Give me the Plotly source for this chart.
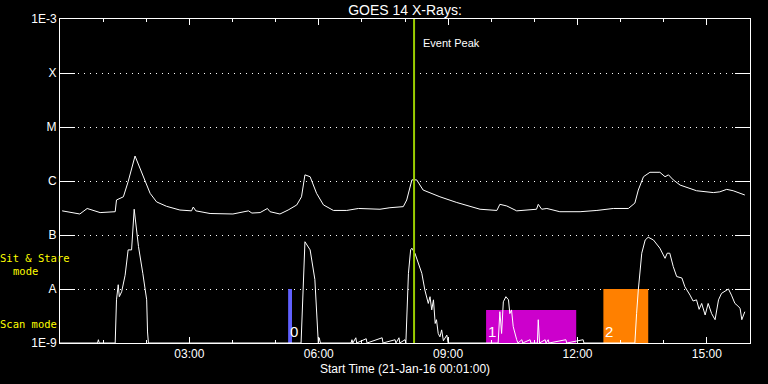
import plotly.graph_objects as go

# ---- data (hours since start, flux W/m^2) ----
long_t = [0.05, 0.46, 0.63, 0.93, 1.28, 1.31, 1.47, 1.58, 1.74, 1.93, 2.09, 2.24, 2.47, 2.78,
          3.05, 3.09, 3.15, 3.48, 4.01, 4.37, 4.45, 4.64, 4.81, 4.87, 5.10, 5.29, 5.49, 5.60,
          5.68, 5.80, 5.95, 6.11, 6.34, 6.65, 6.92, 7.42, 7.65, 7.96, 8.04, 8.16, 8.27, 8.42,
          8.81, 9.20, 9.74, 10.13, 10.20, 10.36, 10.59, 11.05, 11.09, 11.17, 11.29, 11.59,
          12.06, 12.45, 12.83, 13.18, 13.33, 13.41, 13.53, 13.68, 13.91, 14.03, 14.11, 14.22,
          14.38, 14.76, 15.15, 15.30, 15.46, 15.61, 15.88]
long_f = [2.8e-7, 2.45e-7, 3.1e-7, 2.6e-7, 2.7e-7, 4.45e-7, 5.1e-7, 9.7e-7, 2.9e-6, 1.2e-6,
          5.9e-7, 4.1e-7, 3.4e-7, 2.9e-7, 2.8e-7, 3.3e-7, 2.8e-7, 2.5e-7, 2.45e-7, 2.8e-7,
          2.55e-7, 2.6e-7, 3.1e-7, 2.7e-7, 2.45e-7, 2.9e-7, 3.6e-7, 5.1e-7, 1.3e-6, 1.2e-6,
          5.9e-7, 3.6e-7, 2.85e-7, 2.85e-7, 3.1e-7, 3.0e-7, 3.2e-7, 3.35e-7, 4.45e-7, 1.05e-6,
          1.05e-6, 6.8e-7, 5.1e-7, 4.0e-7, 3.0e-7, 2.85e-7, 3.7e-7, 3.45e-7, 2.8e-7, 3.0e-7,
          3.7e-7, 3.0e-7, 3.1e-7, 2.7e-7, 2.7e-7, 2.85e-7, 3.1e-7, 3.1e-7, 3.9e-7, 6.8e-7,
          1.2e-6, 1.45e-6, 1.45e-6, 1.2e-6, 1.3e-6, 1.05e-6, 8.4e-7, 6.6e-7, 6.1e-7, 6.3e-7,
          7.0e-7, 6.6e-7, 5.5e-7]

short_t = [0.0, 0.87, 0.89, 0.91, 1.28, 1.29, 1.31, 1.35, 1.375, 1.43, 1.51, 1.58, 1.66, 1.72,
           1.82, 1.92, 2.01, 2.03, 2.05,
           5.57, 5.59, 5.68, 5.80, 5.91, 5.97, 5.99, 6.01, 6.04,
           6.75, 6.77, 6.79, 6.86, 6.88, 7.10, 7.12, 7.47, 7.49, 7.77, 7.79, 7.86, 7.88,
           8.00, 8.02, 8.08, 8.13, 8.16, 8.23, 8.31, 8.39, 8.46, 8.54, 8.58, 8.62, 8.66, 8.70,
           8.73, 8.77, 8.81, 8.85, 8.89, 8.97, 9.00,
           10.16, 10.20, 10.24, 10.28, 10.34, 10.40, 10.43, 10.47, 10.51, 10.59, 10.62,
           10.71, 10.73, 10.90, 10.92, 11.07, 11.09, 11.12, 11.25, 11.27, 11.32, 11.34,
           11.73, 11.75, 12.13, 12.15,
           13.33, 13.37, 13.41, 13.49, 13.57, 13.64, 13.76, 13.91, 14.03, 14.08, 14.14, 14.22,
           14.30, 14.42, 14.49, 14.61, 14.68, 14.76, 14.82, 14.88, 14.96, 15.03, 15.11, 15.19,
           15.27, 15.34, 15.42, 15.50, 15.57, 15.65, 15.70, 15.77, 15.81, 15.88]
short_f = [1e-9, 1e-9, 1.15e-9, 1e-9, 1e-9, 1.9e-9, 6.3e-9, 1.2e-8, 7.2e-9, 8.9e-9, 1.8e-8,
           5.3e-8, 5.3e-8, 3.0e-7, 6.1e-8, 1.95e-8, 6.3e-9, 1.6e-9, 1e-9,
           1e-9, 1e-9, 7.5e-8, 5.3e-8, 1.5e-8, 1.3e-9, 1e-9, 1.25e-9, 1e-9,
           1e-9, 1.15e-9, 1e-9, 1.25e-9, 1e-9, 1.2e-9, 1e-9, 1.25e-9, 1e-9, 1.15e-9, 1e-9,
           1.25e-9, 1e-9,
           1.15e-9, 1e-9, 1.95e-8, 5.3e-8, 5.7e-8, 4.6e-8, 3.0e-8, 1.95e-8, 9.6e-9, 5.4e-9,
           7.2e-9, 4.1e-9, 6.3e-9, 2.3e-9, 2.7e-9, 1.5e-9, 1.3e-9, 1.75e-9, 1.1e-9, 1.4e-9,
           1e-9,
           1e-9, 3.8e-9, 1.5e-9, 5.8e-9, 7.2e-9, 6.3e-9, 3.5e-9, 4.1e-9, 2.0e-9, 1.15e-9, 1e-9,
           1.15e-9, 1e-9, 1.15e-9, 1e-9, 1e-9, 2.7e-9, 1e-9, 1.15e-9, 1e-9, 1.15e-9, 1e-9,
           1.15e-9, 1e-9, 1.15e-9, 1e-9,
           1e-9, 3.5e-9, 9.6e-9, 4.6e-8, 8.1e-8, 9.1e-8, 8.1e-8, 5.7e-8, 3.7e-8, 4.6e-8,
           4.6e-8, 2.6e-8, 1.7e-8, 1.6e-8, 1.1e-8, 7.7e-9, 6.0e-9, 6.3e-9, 4.2e-9, 5.4e-9,
           3.3e-9, 5.4e-9, 3.5e-9, 2.7e-9, 6.3e-9, 8.3e-9, 9.2e-9, 1.0e-8, 7.7e-9, 5.4e-9,
           5.0e-9, 4.4e-9, 2.7e-9, 3.8e-9]

event_peak_t = 8.21

# scan/mode blocks: (label, start h, end h, top flux, colour)
block_labels = ["0", "1", "2"]
block_start = [5.29, 9.88, 12.60]
block_end = [5.38, 11.97, 13.64]
block_top = [1e-8, 4.1e-9, 1e-8]
block_colors = ["#6060ff", "#cc00cc", "#ff8000"]

ytick_vals = [1e-9, 1e-8, 1e-7, 1e-6, 1e-5, 1e-4, 1e-3]
ytick_text = ["1E-9", "A", "B", "C", "M", "X", "1E-3"]
xtick_vals = [3, 6, 9, 12, 15]
xtick_text = ["03:00", "06:00", "09:00", "12:00", "15:00"]

FONT = "Liberation Sans"
MONO = "DejaVu Sans Mono"
fig = go.Figure()

for lab, s, e, top, col in zip(block_labels, block_start, block_end, block_top, block_colors):
    fig.add_trace(go.Scatter(x=[s, e, e, s, s], y=[1e-9, 1e-9, top, top, 1e-9],
                             mode="lines", fill="toself", fillcolor=col,
                             line=dict(width=0, color=col), hoverinfo="skip",
                             showlegend=False))

fig.add_trace(go.Scatter(x=long_t, y=long_f, mode="lines",
                         line=dict(color="white", width=1), showlegend=False))
fig.add_trace(go.Scatter(x=short_t, y=short_f, mode="lines",
                         line=dict(color="white", width=1), showlegend=False))

fig.add_shape(type="line", xref="x", yref="paper", x0=event_peak_t, x1=event_peak_t,
              y0=0, y1=1, line=dict(color="#99cc00", width=2))

annotations = [
    dict(text="Event Peak", xref="x", yref="paper", x=event_peak_t, y=0.926,
         xanchor="left", yanchor="middle", xshift=7, showarrow=False,
         font=dict(family=FONT, size=11, color="white")),
    dict(text="Sit & Stare", xref="paper", yref="paper", x=-0.0362, y=0.262,
         xanchor="center", yanchor="middle", showarrow=False,
         font=dict(family=MONO, size=10.5, color="#ffff00")),
    dict(text="mode", xref="paper", yref="paper", x=-0.050, y=0.222,
         xanchor="center", yanchor="middle", showarrow=False,
         font=dict(family=MONO, size=10.5, color="#ffff00")),
    dict(text="Scan mode", xref="paper", yref="paper", x=-0.0457, y=0.0586,
         xanchor="center", yanchor="middle", showarrow=False,
         font=dict(family=MONO, size=10.5, color="#ffff00")),
    dict(text="Start Time (21-Jan-16 00:01:00)", xref="paper", yref="paper", x=0.5, y=-0.080,
         xanchor="center", yanchor="middle", showarrow=False,
         font=dict(family=FONT, size=12, color="white")),
]
for lab, s in zip(block_labels, block_start):
    annotations.append(dict(text=lab, xref="x", yref="paper", x=s, y=0.0,
                            xanchor="left", yanchor="bottom", yshift=1, showarrow=False,
                            font=dict(family=FONT, size=15, color="white")))

fig.update_layout(
    width=768, height=384,
    margin=dict(l=60, r=18, t=19, b=41),
    paper_bgcolor="black", plot_bgcolor="black",
    title=dict(text="GOES 14 X-Rays:", xref="paper", x=0.5, xanchor="center",
               yref="container", y=0.974, yanchor="middle",
               font=dict(family=FONT, size=14, color="white")),
    annotations=annotations,
    showlegend=False,
)
fig.update_xaxes(range=[0, 16], tickvals=xtick_vals, ticktext=xtick_text,
                 ticks="inside", ticklen=6, tickcolor="white", tickwidth=1,
                 minor=dict(dtick=1, ticks="inside", ticklen=3, tickcolor="white"),
                 showline=True, linecolor="white", linewidth=1, mirror="ticks",
                 showgrid=False, zeroline=False,
                 tickfont=dict(family=FONT, size=12, color="white"))
fig.update_yaxes(type="log", range=[-9, -3], tickvals=ytick_vals, ticktext=ytick_text,
                 ticks="inside", ticklen=15, tickcolor="white", tickwidth=1,
                 showline=True, linecolor="white", linewidth=1, mirror="ticks",
                 showgrid=True, gridcolor="white", gridwidth=1, griddash="1px,5px",
                 zeroline=False,
                 tickfont=dict(family=FONT, size=12, color="white"))

fig.write_html("out.html", config={"displayModeBar": False},
               post_script="document.body.style.margin='0';document.body.style.background='black';")
